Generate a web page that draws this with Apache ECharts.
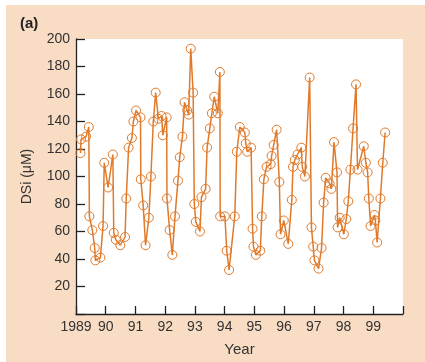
<!DOCTYPE html>
<html>
<head>
<meta charset="utf-8">
<script src="https://cdn.jsdelivr.net/npm/echarts@6/dist/echarts.min.js"></script>
<style>
  html, body { margin: 0; padding: 0; background: #fff; }
  #chart { position: absolute; left: 6px; top: 5px; width: 419px; height: 357px; }
</style>
</head>
<body>
<div id="chart"></div>
<script>
// sample dates (decimal years) and dissolved silica (uM)
const years = [
  1989.15, 1989.17, 1989.34, 1989.43, 1989.45, 1989.55, 1989.63, 1989.65, 1989.82, 1989.91,
  1989.95, 1990.08, 1990.24, 1990.27, 1990.34, 1990.49, 1990.65, 1990.69, 1990.77, 1990.88,
  1990.93, 1991.02, 1991.17, 1991.18, 1991.26, 1991.34, 1991.45, 1991.52, 1991.60, 1991.68,
  1991.77, 1991.88, 1991.92, 1992.05, 1992.06, 1992.15, 1992.24, 1992.33, 1992.43, 1992.49,
  1992.58, 1992.65, 1992.74, 1992.79, 1992.86, 1992.94, 1992.98, 1993.03, 1993.17, 1993.22,
  1993.36, 1993.41, 1993.50, 1993.57, 1993.65, 1993.77, 1993.84, 1993.85, 1994.01, 1994.07,
  1994.15, 1994.34, 1994.41, 1994.51, 1994.68, 1994.71, 1994.76, 1994.89, 1994.94, 1994.97,
  1995.05, 1995.20, 1995.25, 1995.32, 1995.41, 1995.55, 1995.58, 1995.65, 1995.75, 1995.84,
  1995.88, 1995.99, 1996.14, 1996.26, 1996.30, 1996.36, 1996.45, 1996.58, 1996.61, 1996.70,
  1996.86, 1996.92, 1996.98, 1997.02, 1997.16, 1997.26, 1997.33, 1997.40, 1997.53, 1997.59,
  1997.68, 1997.78, 1997.80, 1997.87, 1998.01, 1998.09, 1998.16, 1998.23, 1998.32, 1998.42,
  1998.47, 1998.68, 1998.75, 1998.81, 1998.85, 1998.91, 1999.04, 1999.07, 1999.13, 1999.24,
  1999.32, 1999.40
];
const dsi = [
  117, 127, 129, 136, 71, 61, 48, 39, 41, 64,
  110, 92, 116, 59, 54, 50, 56, 84, 121, 128,
  140, 148, 143, 98, 79, 50, 70, 100, 140, 161,
  142, 144, 130, 143, 84, 61, 43, 71, 97, 114,
  129, 154, 148, 145, 193, 161, 80, 67, 60, 85,
  91, 121, 135, 146, 158, 146, 176, 71, 71, 46,
  32, 71, 118, 136, 132, 124, 118, 121, 62, 49,
  43, 46, 71, 98, 107, 109, 115, 123, 134, 96,
  58, 68, 51, 83, 107, 112, 116, 121, 107, 100,
  172, 63, 49, 39, 33, 48, 81, 99, 95, 91,
  125, 103, 63, 70, 58, 69, 82, 105, 135, 167,
  105, 122, 110, 103, 84, 64, 72, 68, 52, 84,
  110, 132
];
const xTickLabels = ['1989', '90', '91', '92', '93', '94', '95', '96', '97', '98', '99', ''];
const yTickLabels = ['', '20', '40', '60', '80', '100', '120', '140', '160', '180', '200'];

const chart = echarts.init(document.getElementById('chart'));
const font = "'Liberation Sans', Arial, sans-serif";
const orange = '#e07a2a';

const option = {
  backgroundColor: '#f9dcc4',
  animation: false,
  textStyle: { fontFamily: font },
  graphic: [
    {
      type: 'text',
      left: 14,
      top: 11,
      style: { text: '(a)', font: "bold 15px 'Liberation Sans', Arial, sans-serif", fill: '#222' }
    }
  ],
  grid: {
    left: 70,
    right: 22,
    top: 34,
    bottom: 47,
    show: true,
    backgroundColor: '#fff',
    borderWidth: 0
  },
  xAxis: {
    type: 'value',
    min: 1989,
    max: 2000,
    interval: 1,
    name: 'Year',
    nameLocation: 'middle',
    nameGap: 28,
    nameTextStyle: { fontSize: 15, color: '#333', fontFamily: font },
    axisLine: { lineStyle: { color: '#222', width: 1.3 } },
    axisTick: { inside: true, length: 8, lineStyle: { color: '#222', width: 1.3 } },
    axisLabel: {
      margin: 6,
      fontSize: 14,
      color: '#333',
      fontFamily: font,
      showMaxLabel: true,
      formatter: v => xTickLabels[Math.round(v - 1989)]
    },
    splitLine: { show: false }
  },
  yAxis: {
    type: 'value',
    min: 0,
    max: 200,
    interval: 20,
    name: 'DSi (\u03bcM)',
    nameLocation: 'middle',
    nameGap: 42,
    nameTextStyle: { fontSize: 14, color: '#333', fontFamily: font },
    axisLine: { show: true, lineStyle: { color: '#222', width: 1.3 } },
    axisTick: { show: true, inside: true, length: 9, lineStyle: { color: '#222', width: 1.3 } },
    axisLabel: {
      margin: 6,
      fontSize: 14,
      color: '#333',
      fontFamily: font,
      formatter: v => yTickLabels[Math.round(v / 20)]
    },
    splitLine: { show: false }
  },
  series: [
    {
      type: 'line',
      data: years.map((y, i) => [y, dsi[i]]),
      symbol: 'circle',
      symbolSize: 9,
      showAllSymbol: true,
      lineStyle: { color: orange, width: 1.5 },
      itemStyle: { color: 'rgba(255,255,255,0)', borderColor: orange, borderWidth: 1 }
    }
  ]
};

chart.setOption(option);
</script>
</body>
</html>
